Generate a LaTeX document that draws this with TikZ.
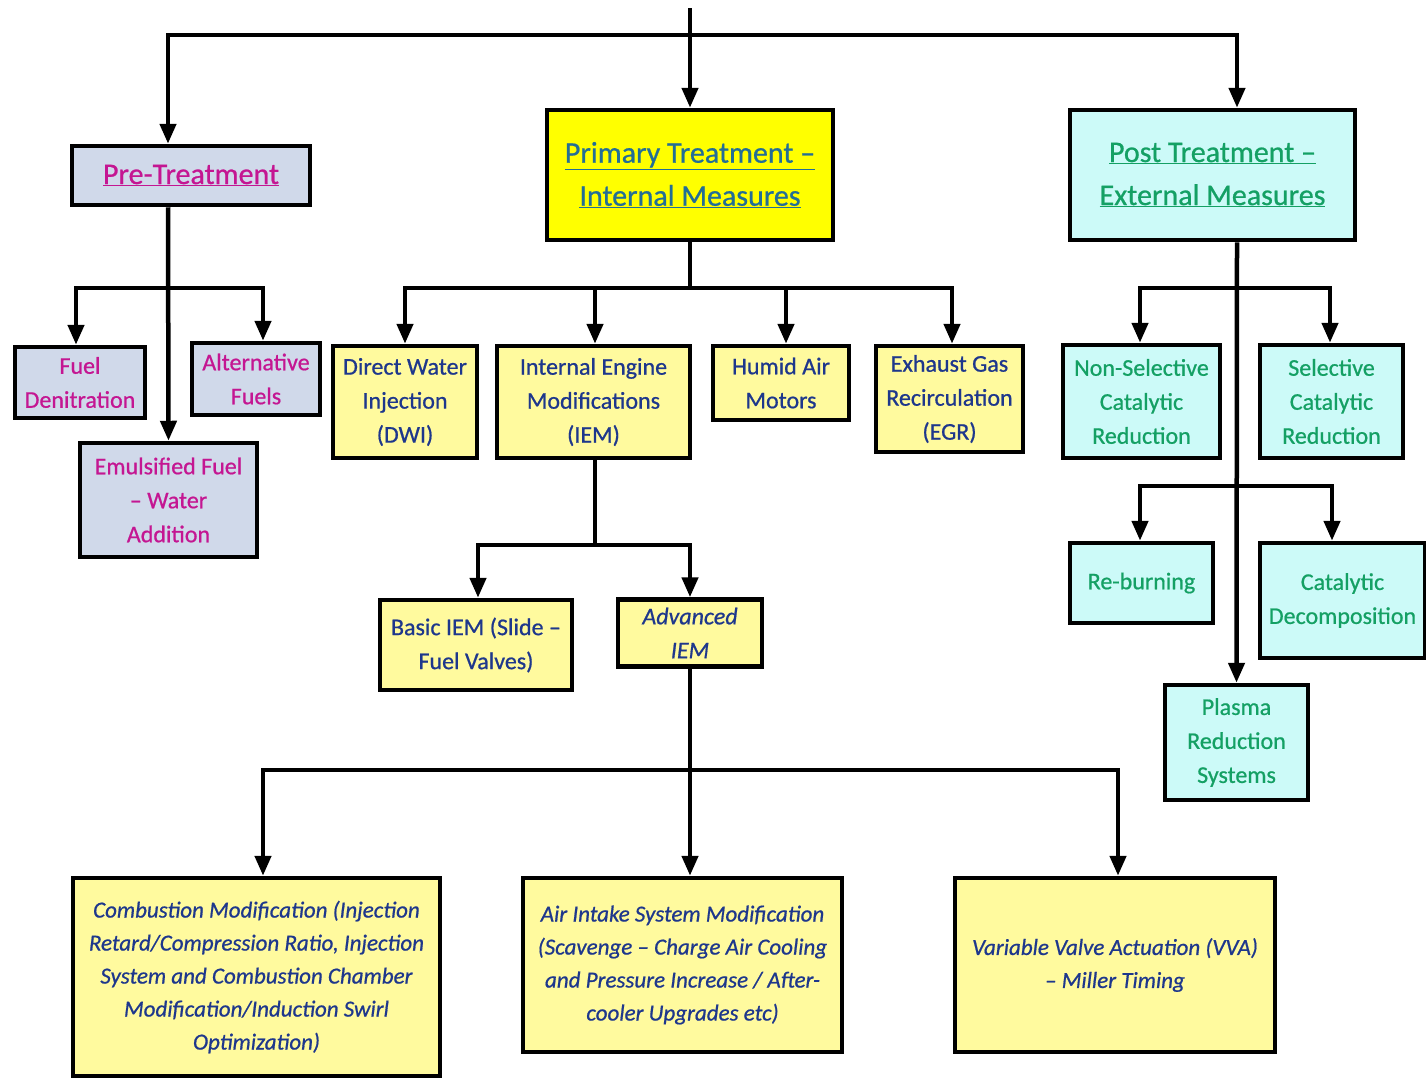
\documentclass[tikz,border=0pt]{standalone}
\usepackage{fontspec}
\setmainfont{Carlito}[FakeBold=0.7]
\usetikzlibrary{arrows.meta}
\definecolor{preFill}{RGB}{208,217,234}
\definecolor{preText}{RGB}{196,22,146}
\definecolor{primFill}{RGB}{255,255,0}
\definecolor{primText}{RGB}{35,110,150}
\definecolor{ylwFill}{RGB}{255,250,158}
\definecolor{ylwText}{RGB}{30,55,140}
\definecolor{postFill}{RGB}{204,250,248}
\definecolor{postText}{RGB}{20,160,100}

\begin{document}
\begin{tikzpicture}[x=1pt, y=-1pt,
  box/.style={draw, line width=4.5pt, align=center, inner sep=2pt,
    font=\fontsize{24}{34}\selectfont},
  prebox/.style={box, fill=preFill, text=preText},
  ylwbox/.style={box, fill=ylwFill, text=ylwText},
  postbox/.style={box, fill=postFill, text=postText},
  bigbox/.style={ylwbox, font=\fontsize{23}{33}\selectfont\itshape},
  titlefont/.style={font=\fontsize{30}{43}\selectfont},
  link/.style={line width=4.5pt},
  arr/.style={link, -{Triangle[length=20pt,width=16pt]}}]
\useasboundingbox (0,0) rectangle (1426,1079);

% top level
\node[prebox, titlefont, minimum width=238pt, minimum height=59pt] (pre) at (191,175.5) {\underline{Pre-Treatment}};
\node[box, fill=primFill, text=primText, titlefont, minimum width=286pt, minimum height=130pt] (prim) at (690,175) {\underline{Primary Treatment –}\\\underline{Internal Measures}};
\node[postbox, titlefont, minimum width=285pt, minimum height=130pt] (post) at (1212.5,175) {\underline{Post Treatment –}\\\underline{External Measures}};

% pre-treatment
\node[prebox, minimum width=130pt, minimum height=71pt] (fden) at (80,382.5) {Fuel\\Denitration};
\node[prebox, minimum width=128pt, minimum height=72pt] (alt) at (256,379) {Alternative\\Fuels};
\node[prebox, minimum width=177pt, minimum height=114pt] (emul) at (168.5,500) {Emulsified Fuel\\– Water\\Addition};

% primary treatment
\node[ylwbox, minimum width=144pt, minimum height=112pt] (dwi) at (405,402) {Direct Water\\Injection\\(DWI)};
\node[ylwbox, minimum width=193pt, minimum height=112pt] (iem) at (593.5,402) {Internal Engine\\Modifications\\(IEM)};
\node[ylwbox, minimum width=136pt, minimum height=74pt] (humid) at (781,383) {Humid Air\\Motors};
\node[ylwbox, minimum width=147pt, minimum height=106pt] (egr) at (949.5,399) {Exhaust Gas\\Recirculation\\(EGR)};
\node[ylwbox, minimum width=192pt, minimum height=90pt] (basic) at (476,645) {Basic IEM (Slide –\\Fuel Valves)};
\node[ylwbox, font=\fontsize{24}{34}\selectfont\itshape, minimum width=144pt, minimum height=67pt] (adv) at (690,633) {Advanced\\IEM};
\node[bigbox, minimum width=367pt, minimum height=198pt] (comb) at (256.5,977) {Combustion Modification (Injection\\Retard/Compression Ratio, Injection\\System and Combustion Chamber\\Modification/Induction Swirl\\Optimization)};
\node[bigbox, minimum width=319pt, minimum height=174pt] (air) at (682.5,965) {Air Intake System Modification\\(Scavenge – Charge Air Cooling\\and Pressure Increase / After-\\cooler Upgrades etc)};
\node[bigbox, minimum width=320pt, minimum height=174pt] (vva) at (1115,965) {Variable Valve Actuation (VVA)\\– Miller Timing};

% post treatment
\node[postbox, minimum width=157pt, minimum height=113pt] (nscr) at (1141.5,401.5) {Non-Selective\\Catalytic\\Reduction};
\node[postbox, minimum width=143pt, minimum height=113pt] (scr) at (1331.5,401.5) {Selective\\Catalytic\\Reduction};
\node[postbox, minimum width=143pt, minimum height=80pt] (reb) at (1141.5,583) {Re-burning};
\node[postbox, minimum width=165pt, minimum height=115pt] (catd) at (1342.5,600.5) {Catalytic\\Decomposition};
\node[postbox, minimum width=143pt, minimum height=115pt] (plasma) at (1236.5,742.5) {Plasma\\Reduction\\Systems};

% junctions
\coordinate (root) at (690,8);
\coordinate (rbus) at (690,35);
\coordinate (pbus) at (168,288);
\coordinate (mbus) at (690,288);
\coordinate (ibus) at (595,545);
\coordinate (abus) at (690,770);
\coordinate (sbus1) at (1237,288);
\coordinate (sbus2) at (1237,486);

% connectors
\draw[arr] (root) -- (prim.north);
\draw[arr] (rbus) -| ([xshift=-23pt]pre.north);
\draw[arr] (rbus) -| ([xshift=24.5pt]post.north);

\draw[arr] ([xshift=-23pt]pre.south) -- (emul.north);
\draw[arr] (pbus) -| ([xshift=-4pt]fden.north);
\draw[arr] (pbus) -| ([xshift=7pt]alt.north);

\draw[link] (prim.south) -- (mbus);
\draw[arr] (mbus) -| (dwi.north);
\draw[arr] (mbus) -| ([xshift=1.5pt]iem.north);
\draw[arr] (mbus) -| ([xshift=5pt]humid.north);
\draw[arr] (mbus) -| ([xshift=2.5pt]egr.north);

\draw[link] ([xshift=1.5pt]iem.south) -- (ibus);
\draw[arr] (ibus) -| ([xshift=2pt]basic.north);
\draw[arr] (ibus) -| (adv.north);

\draw[arr] (adv.south) -- (abus) -- (abus |- air.north);
\draw[arr] (abus) -| ([xshift=6.5pt]comb.north);
\draw[arr] (abus) -| ([xshift=3pt]vva.north);

\draw[arr] ([xshift=24.5pt]post.south) -- (plasma.north);
\draw[arr] (sbus1) -| ([xshift=-1.5pt]nscr.north);
\draw[arr] (sbus1) -| ([xshift=-1.5pt]scr.north);
\draw[arr] (sbus2) -| ([xshift=-1.5pt]reb.north);
\draw[arr] (sbus2) -| ([xshift=-10.5pt]catd.north);
\end{tikzpicture}
\end{document}
